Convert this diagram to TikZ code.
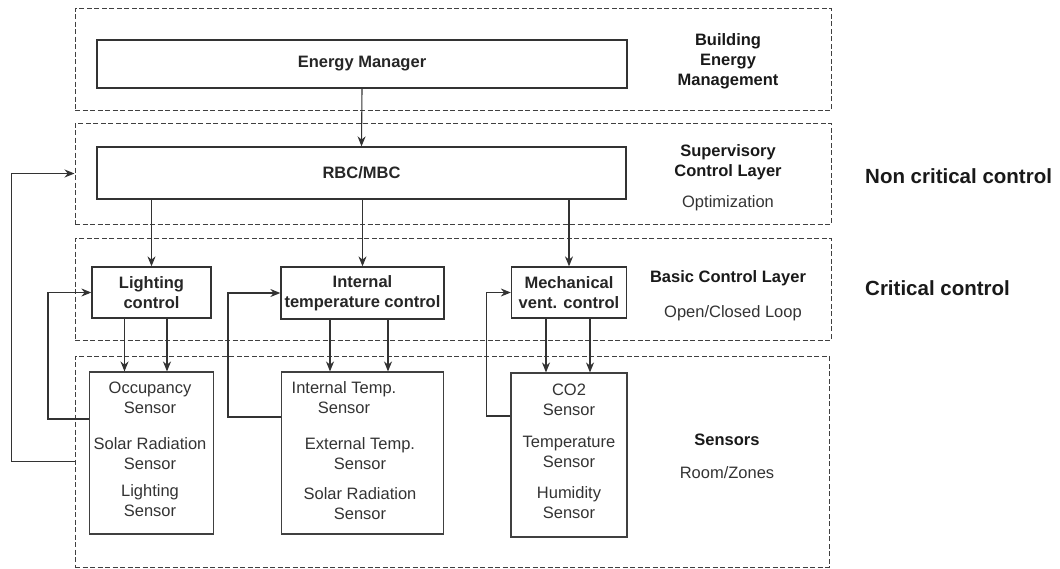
\documentclass[tikz,border=0pt]{standalone}
\usepackage{fontspec}
\setmainfont{Liberation Sans}
\usepackage{tikz}
\usetikzlibrary{arrows.meta}
\usetikzlibrary{calc}
\usetikzlibrary{positioning}

\begin{document}
\begin{tikzpicture}[
  x=1pt, y=-1pt,
	layer/.style={
	draw=black!75,
	rectangle,
	dash pattern=on 5pt off 2.5pt,
	line width=1pt,
	inner sep=0pt},
	block/.style={
	draw=black!80,
	fill=white,
	rectangle,
	line width=1.3pt,
	align=center,
	text=black!85,
	inner sep=0pt,
	font=\fontsize{16.5}{20}\selectfont\bfseries},
	sensorbox/.style={
	draw=black!75,
	rectangle,
	line width=1.1pt,
	inner sep=0pt},
	sensortext/.style={
	align=center,
	text=black!80,
	inner sep=0pt,
	font=\fontsize{16.5}{20}\selectfont},
	title/.style={
	align=center,
	text=black!90,
	inner sep=0pt,
	font=\fontsize{16.5}{20}\selectfont\bfseries},
	note/.style={
	text=black!80,
	inner sep=0pt,
	font=\fontsize{16.5}{20}\selectfont},
	side/.style={
	anchor=west,
	text=black!90,
	inner sep=0pt,
	font=\fontsize{20.5}{24}\selectfont\bfseries},
  arrow1/.style={
  -{Stealth[length=10pt, width=8pt]},
  draw=black!80,
  line width=1.1pt
  }]

	\useasboundingbox (0,0) rectangle (1060,568);

	% Layers
	\node [layer, minimum width=756pt, minimum height=102pt] at (453,59)    (bem)   {};
	\node [layer, minimum width=756pt, minimum height=101pt] at (453,173.5) (sup)   {};
	\node [layer, minimum width=756pt, minimum height=102pt] at (453,289)   (basic) {};
	\node [layer, minimum width=754pt, minimum height=211pt] at (452,461.5) (sens)  {};

	% Layer labels
	\node [title] at (728,61)  (bemlabel) {Building\\Energy\\Management};
	\node [title] at (728,162) (suplabel) {Supervisory\\Control Layer};
	\node [note, below=15pt of suplabel] (optim) {Optimization};
	\node [title] at (728,278) (basiclabel) {Basic Control Layer};
	\node [note, below=19pt of basiclabel, xshift=5pt] (loop) {Open/Closed Loop};
	\node [title] at (727,440) (senslabel) {Sensors};
	\node [note, below=20pt of senslabel] (zones) {Room/Zones};

	\node [side] at (865,176) (noncrit) {Non critical control};
	\node [side] at (865,288) (crit)    {Critical control};

	% Controllers
	\node [block, minimum width=530pt, minimum height=48pt] at (362,64)    (manager) {Energy Manager};
	\node [block, minimum width=529pt, minimum height=52pt] at (361.5,173) (rbc)     {RBC/MBC};
	\node [block, minimum width=119pt, minimum height=51pt] at (151.5,292.5) (light) {Lighting\\control};
	\node [block, minimum width=163pt, minimum height=52pt] at (362.5,293) (temp)    {Internal\\temperature control};
	\node [block, minimum width=115pt, minimum height=51pt] at (569,292.5) (vent)    {Mechanical\\vent. control};

	% Sensors
	\node [sensorbox, minimum width=124pt, minimum height=162pt] at (151.5,453) (lightsens) {};
	\node [sensorbox, minimum width=162pt, minimum height=162pt] at (362.5,453) (tempsens)  {};
	\node [sensorbox, minimum width=116pt, minimum height=164pt] at (569,455)   (ventsens)  {};

	\node [sensortext] at (150,398)   (occ)     {Occupancy\\Sensor};
	\node [sensortext] at (150,454)   (solar1)  {Solar Radiation\\Sensor};
	\node [sensortext] at (150,501)   (lux)     {Lighting\\Sensor};
	\node [sensortext] at (344,397.5) (inttemp) {Internal Temp.\\Sensor};
	\node [sensortext] at (360,453.5) (exttemp) {External Temp.\\Sensor};
	\node [sensortext] at (360,504)   (solar2)  {Solar Radiation\\Sensor};
	\node [sensortext] at (569,400)   (co2)     {CO2\\Sensor};
	\node [sensortext] at (569,451.5) (tsens)   {Temperature\\Sensor};
	\node [sensortext] at (569,503)   (hum)     {Humidity\\Sensor};

	% Commands
	\draw[arrow1] (manager.south) -- (rbc.north);
	\draw[arrow1] (light.north |- rbc.south) -- (light.north);
	\draw[arrow1] (temp.north |- rbc.south) -- (temp.north);
	\draw[arrow1] (vent.north |- rbc.south) -- (vent.north);

	\draw[arrow1] ($(light.south)+(-27,0)$) -- ($(lightsens.north)+(-27,0)$);
	\draw[arrow1] ($(light.south)+(15.5,0)$) -- ($(lightsens.north)+(15.5,0)$);
	\draw[arrow1] ($(temp.south)+(-32.5,0)$) -- ($(tempsens.north)+(-32.5,0)$);
	\draw[arrow1] ($(temp.south)+(25.5,0)$) -- ($(tempsens.north)+(25.5,0)$);
	\draw[arrow1] ($(vent.south)+(-23,0)$) -- ($(ventsens.north)+(-23,0)$);
	\draw[arrow1] ($(vent.south)+(21,0)$) -- ($(ventsens.north)+(21,0)$);

	% Feedback
	\draw[arrow1] ($(lightsens.west)+(0,-34)$) -- ++(-41,0) |- (light.west);
	\draw[arrow1] ($(tempsens.west)+(0,-36)$) -- ++(-53,0) |- (temp.west);
	\draw[arrow1] ($(ventsens.west)+(0,-39)$) -- ++(-24,0) |- (vent.west);
	\draw[arrow1] (sens.west) -- ++(-63,0) |- (sup.west);

\end{tikzpicture}
\end{document}
